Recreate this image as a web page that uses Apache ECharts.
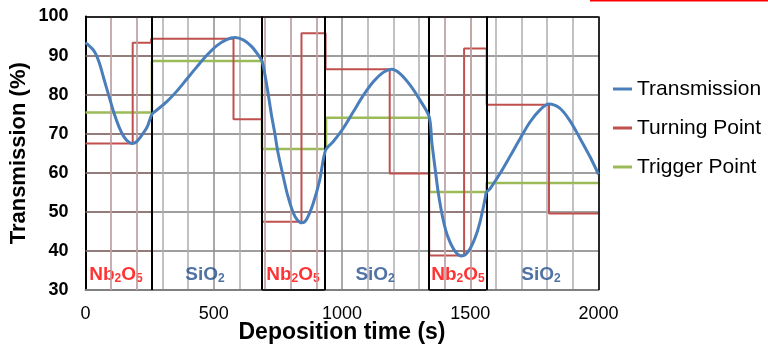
<!DOCTYPE html>
<html><head><meta charset="utf-8">
<script src="https://cdn.jsdelivr.net/npm/echarts@6/dist/echarts.min.js"></script>
<style>html,body{margin:0;padding:0;background:#fff}#c{width:768px;height:345px}</style>
</head><body><div id="c"></div><script>
// ---- data ----
const transTime  = [0,33,53,72,92,111,131,150,168,183,200,215,241,259,277,317,356,395,434,472,511,550,583,615,648,674,688,699,712,724,738,750,770,789,809,825,843,861,887,913,936,966,1005,1044,1083,1122,1161,1194,1226,1265,1304,1340,1350,1363,1376,1395,1414,1441,1467,1492,1518,1538,1558,1563,1577,1616,1655,1694,1733,1772,1806,1850,1889,1928,1967,2000];
const transValue = [93.3,91.2,88.3,84.0,79.5,75.3,71.7,69.2,67.9,67.5,68.0,69.2,71.8,75.0,76.0,78.2,80.9,84.0,87.1,90.0,92.5,94.1,94.6,94.0,92.3,90.1,88.6,85.3,80.3,75.2,70.1,65.3,59.3,54.0,49.9,48.0,47.2,48.0,52.0,58.1,65.8,68.0,71.4,75.6,79.8,83.3,85.7,86.5,85.4,82.5,78.6,74.3,67.9,61.1,54.6,47.8,43.4,39.9,38.7,39.8,43.2,47.4,53.4,55.0,55.9,59.8,64.2,68.7,73.0,76.1,77.6,76.5,73.3,68.8,64.1,59.6];
const turnTime   = [0,184,184,256,256,577,577,688,688,842,842,936,936,1186,1186,1340,1340,1476,1476,1564,1564,1807,1807,2000];
const turnValue  = [67.5,67.5,93.3,93.3,94.3,94.3,73.7,73.7,47.5,47.5,95.7,95.7,86.5,86.5,59.8,59.8,38.8,38.8,91.8,91.8,77.4,77.4,49.6,49.6];
const trigTime   = [0,259,259,688,688,938,938,1340,1340,1564,1564,2000];
const trigValue  = [75.4,75.4,88.6,88.6,66.1,66.1,74.1,74.1,55.1,55.1,57.4,57.4];
const layerBounds    = [0,259,688,933,1340,1563,2000];
const layerMaterials = ['Nb2O5','SiO2','Nb2O5','SiO2','Nb2O5','SiO2'];
const layerLabelX    = [119,466,809,1129,1452,1776];
const layerLabelY    = 34.3;
const seriesNames = ['Transmission','Turning Point','Trigger Point'];
const xMin = 0, xMax = 2000, xInterval = 500;
const yMin = 30, yMax = 100, yInterval = 10;

// ---- build ----
const zip = (a,b) => a.map((v,i)=>[v,b[i]]);
const FONT = "'Liberation Sans', Arial, sans-serif";
const C_BLUE='#4a7ebb', C_RED='#c0504d', C_GREEN='#9bbb59';

const lineSeg = (x1,y1,x2,y2,color,width) => [
  {coord:[x1,y1], lineStyle:{color:color,width:width,type:'solid'}},
  {coord:[x2,y2]}
];
const marks = [];
for (let i=0;i<layerMaterials.length;i++){
  if (layerMaterials[i] !== 'Nb2O5') continue;
  const a = layerBounds[i], b = layerBounds[i+1];
  for (let y=yMin+yInterval; y<yMax; y+=yInterval) marks.push(lineSeg(a,y,b,y,'#8e7070',1.5));
  for (let x=Math.ceil((a+1)/100)*100; x<b; x+=100) marks.push(lineSeg(x,yMin,x,yMax,'#c9a9a9',1.5));
  if (i>0) marks.push(lineSeg(a,yMin,b,yMin,'#000',1.5));
}
for (let i=1;i<layerBounds.length-1;i++) marks.push(lineSeg(layerBounds[i],yMin,layerBounds[i],yMax,'#000',2));
marks.push(lineSeg(xMin,yMax,xMax,yMax,'#000',1.5));
marks.push(lineSeg(xMax,yMin,xMax,yMax,'#000',1.5));

const rich = {
  nr:{fontFamily:FONT,fontSize:19,fontWeight:'bold',color:'#ff0000',lineHeight:22,verticalAlign:'bottom'},
  sr:{fontFamily:FONT,fontSize:12,fontWeight:'bold',color:'#ff0000',lineHeight:12,verticalAlign:'bottom'},
  nb:{fontFamily:FONT,fontSize:19,fontWeight:'bold',color:'#24508f',lineHeight:22,verticalAlign:'bottom'},
  sb:{fontFamily:FONT,fontSize:12,fontWeight:'bold',color:'#24508f',lineHeight:12,verticalAlign:'bottom'}
};
const labelText = m => m==='Nb2O5' ? '{nr|Nb}{sr|2}{nr|O}{sr|5}' : '{nb|SiO}{sb|2}';

const chart = echarts.init(document.getElementById('c'), null, {renderer:'canvas'});
chart.setOption({
  animation:false,
  backgroundColor:'#fff',
  grid:{left:85.5, right:169.5, top:16.5, bottom:55, containLabel:false, outerBoundsMode:'none'},
  legend:{
    orient:'vertical', left:608, top:73, itemGap:17,
    icon:'rect', itemWidth:19, itemHeight:3,
    textStyle:{fontFamily:FONT, fontSize:21, color:'#000', lineHeight:22},
    data:seriesNames
  },
  xAxis:{
    type:'value', min:xMin, max:xMax, interval:xInterval,
    name:'Deposition time (s)', nameLocation:'middle', nameGap:31, nameMoveOverlap:false,
    nameTextStyle:{fontFamily:FONT, fontSize:23, fontWeight:'bold', color:'#000'},
    axisLine:{show:true, lineStyle:{color:'#808080', width:2}},
    axisTick:{show:false},
    axisLabel:{fontFamily:FONT, fontSize:18, color:'#000', margin:15, formatter:v=>String(v)},
    splitLine:{show:true, lineStyle:{color:'#8c8c8c', width:1.5}},
    minorTick:{show:false, splitNumber:5},
    minorSplitLine:{show:true, lineStyle:{color:'#acacb2', width:1.5}}
  },
  yAxis:{
    type:'value', min:yMin, max:yMax, interval:yInterval,
    name:'Transmission (%)', nameLocation:'middle', nameGap:56, nameMoveOverlap:false,
    nameTextStyle:{fontFamily:FONT, fontSize:22, fontWeight:'bold', color:'#000'},
    axisLine:{show:true, lineStyle:{color:'#000', width:2}},
    axisTick:{show:false},
    axisLabel:{fontFamily:FONT, fontSize:18, fontWeight:'bold', color:'#000', margin:17},
    splitLine:{show:true, lineStyle:{color:'#7f7f7f', width:1.5}}
  },
  series:[
    {type:'line', name:'_frame', data:[], z:1, silent:true,
     markLine:{silent:true, symbol:['none','none'], label:{show:false}, animation:false, data:marks}},
    {type:'scatter', name:'_labels', z:2, silent:true, symbolSize:0,
     data: layerLabelX.map((x,i)=>[x, layerLabelY, layerMaterials[i]]),
     label:{show:true, position:'inside', formatter:p=>labelText(p.data[2]), rich:rich}},
    {type:'line', name:seriesNames[2], data:zip(trigTime,trigValue), z:3, showSymbol:false, symbol:'none',
     color:C_GREEN, lineStyle:{color:C_GREEN, width:2.5}, itemStyle:{color:C_GREEN}},
    {type:'line', name:seriesNames[1], data:zip(turnTime,turnValue), z:4, showSymbol:false, symbol:'none',
     color:C_RED, lineStyle:{color:C_RED, width:2}, itemStyle:{color:C_RED}},
    {type:'line', name:seriesNames[0], data:zip(transTime,transValue), z:5, showSymbol:false, symbol:'none',
     smooth:0.3,
     color:C_BLUE, lineStyle:{color:C_BLUE, width:3}, itemStyle:{color:C_BLUE}}
  ],
  graphic:[{type:'rect', left:590, top:0, shape:{width:178, height:1.5}, style:{fill:'#ff0000'}, silent:true}]
});
</script></body></html>
